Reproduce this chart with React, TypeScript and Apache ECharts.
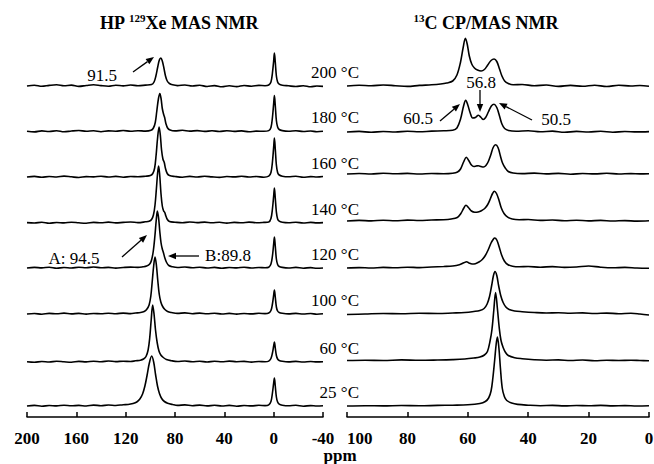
import React, { useEffect, useRef } from 'react';
import * as echarts from 'echarts';

const F = "'Liberation Serif','Times New Roman',Times,serif";

// Temperature labels (top to bottom)
const temps = ['200 °C', '180 °C', '160 °C', '140 °C', '120 °C', '100 °C', '60 °C', '25 °C'];

// Vertical offsets of each stacked trace (y-axis units, 0 = axis line)
const xeOffsets = [331, 285.5, 240, 194, 149, 103, 55, 11];
const cOffsets = [331, 285, 243, 196, 149, 103.5, 56.5, 11];

// HP 129Xe MAS NMR spectra: [ppm, intensity]
const xe200 = [[200,0],[194,0.8],[188,-0.3],[182,0.6],[176,1.2],[170,0.2],[164,0.9],[158,-0.4],[152,0.5],[146,1.3],[140,0.4],[134,-0.2],[128,0.8],[122,0.1],[116,1],[110,0.3],[104,0.9],
  [99,1.5],[97,4],[95.5,10],[94,19],[92.7,26],[91.5,28],[90.3,25],[89,18],[87.7,10],[86.3,5],[84.5,2.5],[82,1.2],
  [78,0.4],[72,1],[66,0],[60,0.7],[54,-0.5],[48,0.4],[42,-0.8],[36,0.2],[30,-0.6],[24,0.5],[18,-0.2],[12,0.6],[7,0.3],[4,1],[2.2,4],[1,13],[0,25],[-0.6,33],[-1.3,24],[-2.2,10],[-3.2,4],[-4.5,1.8],[-7,0.8],[-12,0.2],[-18,-0.5],[-24,0.3],[-30,-0.8],[-35,0],[-40,-0.4]];
const xe180 = [[200,0.3],[194,-0.4],[188,0.6],[182,0],[176,0.8],[170,-0.3],[164,0.5],[158,1],[152,0.2],[146,0.7],[140,-0.2],[134,0.6],[128,0.3],[122,1],[116,0.2],[110,0.8],[104,0.4],
  [99.5,1.2],[97.5,3.5],[96,9],[94.8,20],[93.4,33],[92.3,38],[91.3,33],[90.3,23],[89.3,17.5],[88.4,14],[87.4,8],[86,3.5],[84,1.5],
  [80,0.6],[74,1.2],[68,0.4],[62,0.9],[56,0.1],[50,0.7],[44,0],[38,0.8],[32,0.1],[26,0.6],[20,-0.3],[14,0.4],[8,0.2],[4,0.9],[2.2,4],[1,14],[0,28],[-0.6,36],[-1.3,26],[-2.2,11],[-3.2,4.5],[-4.5,2],[-7,0.9],[-12,0.3],[-18,0.8],[-24,0],[-30,0.5],[-35,-0.2],[-40,0.2]];
const xe160 = [[200,0],[194,0.6],[188,-0.3],[182,0.5],[176,0],[170,0.9],[164,0.2],[158,-0.5],[152,0.4],[146,0.1],[140,0.8],[134,0],[128,0.6],[122,-0.2],[116,0.5],[110,0.2],[104,0.8],
  [100,1.5],[98,3.5],[96.5,9],[95.3,22],[94.2,38],[92.9,50],[91.9,42],[90.9,27],[89.8,18],[88.7,14.5],[87.7,8.5],[86.3,3.5],[84.5,1.5],
  [80,0.5],[74,-0.2],[68,0.6],[62,0],[56,0.8],[50,0.1],[44,-0.4],[38,0.5],[32,0.1],[26,0.7],[20,0],[14,0.5],[8,-0.2],[4,0.8],[2.2,4.5],[1,15],[0,30],[-0.6,39],[-1.3,28],[-2.2,12],[-3.2,4.5],[-4.5,2],[-7,0.8],[-12,0.2],[-18,0.7],[-24,-0.3],[-30,0.4],[-35,0],[-40,0.5]];
const xe140 = [[200,0.4],[194,0],[188,0.7],[182,-0.3],[176,0.5],[170,0.1],[164,0.8],[158,0.2],[152,-0.2],[146,0.6],[140,0.2],[134,0.9],[128,0.1],[122,0.6],[116,1],[110,0.4],[104,1.2],
  [101,1.8],[99,3.5],[97.5,8],[96.2,18],[95.1,34],[94.1,50],[93.3,57],[92.4,48],[91.4,30],[90.3,17],[89.2,12],[88.3,10.5],[87.4,7],[86.2,3.5],[84.5,1.5],
  [80,0.8],[74,0.2],[68,1],[62,0.4],[56,0.9],[50,0.2],[44,0.7],[38,-0.1],[32,0.6],[26,0.2],[20,0.9],[14,0.3],[8,0.6],[4,1],[2.2,4.5],[1,14],[0,27],[-0.6,35],[-1.3,25],[-2.2,11],[-3.2,4],[-4.5,1.8],[-7,0.8],[-12,0.3],[-18,0.8],[-24,0],[-30,0.6],[-35,0.1],[-40,0.4]];
const xe120 = [[200,0],[194,0.6],[188,0.1],[182,0.8],[176,-0.2],[170,0.5],[164,0],[158,0.7],[152,0.3],[146,1],[140,0.2],[134,0.6],[128,-0.1],[122,0.5],[116,0.9],[110,0.6],[106,1.2],
  [103,2],[100.5,4],[99,8],[97.6,17],[96.3,32],[95.2,48],[94.3,57],[93.3,50],[92.3,36],[91.3,25],[90.3,19],[89.3,15],[88.2,10],[86.8,5.5],[85,2.5],[82,1.2],
  [78,0.5],[72,1],[66,0.2],[60,0.8],[54,0],[48,0.6],[42,-0.3],[36,0.5],[30,0.1],[24,0.8],[18,0],[12,0.5],[7,0.2],[4,0.8],[2.2,4],[1,12],[0,24],[-0.6,31],[-1.3,22],[-2.2,9],[-3.2,3.5],[-4.5,1.5],[-7,0.6],[-12,0],[-18,0.6],[-24,-0.2],[-30,0.4],[-35,-0.3],[-40,0]];
const xe100 = [[200,0],[194,0.5],[188,-0.2],[182,0.6],[176,0.2],[170,0.9],[164,0.1],[158,0.6],[152,-0.1],[146,0.5],[140,0.2],[134,0.8],[128,0.3],[122,0.9],[116,0.4],[112,1],[108,1.5],
  [105,2.5],[103,4.5],[101,9],[99.6,18],[98.5,32],[97.3,48],[96.2,57],[95.1,49],[94,34],[92.8,20],[91.5,12],[90,7.5],[88.2,4.5],[86,2.5],[83,1.5],
  [78,0.6],[72,1.1],[66,0.3],[60,0.9],[54,0.2],[48,0.7],[42,0],[36,0.6],[30,-0.1],[24,0.5],[18,0.1],[12,0.7],[7,0.4],[4,1],[2.2,3.5],[1,10],[0,19],[-0.6,24],[-1.3,17],[-2.2,7],[-3.2,3],[-4.5,1.5],[-7,0.7],[-12,0.1],[-18,0.6],[-24,0],[-30,0.5],[-35,-0.2],[-40,0.2]];
const xe60 = [[200,0.2],[194,-0.3],[188,0.5],[182,0],[176,0.7],[170,0.2],[164,-0.2],[158,0.6],[152,0.1],[146,0.8],[140,0.3],[134,1],[128,0.4],[122,0.8],[116,0.5],[112,1.2],[108,1.8],
  [105.5,3],[103.5,5.5],[101.8,12],[100.5,24],[99.3,42],[98.1,57],[97,48],[95.8,32],[94.4,19],[93,11],[91.5,7],[89.5,4.5],[87,2.5],[83,1.3],
  [78,0.5],[72,1],[66,0.2],[60,0.8],[54,0],[48,0.7],[42,0.2],[36,0.9],[30,0.3],[24,0.6],[18,-0.1],[12,0.5],[7,0.3],[4,0.9],[2.2,3.5],[1,9],[0,16],[-0.6,20],[-1.3,14],[-2.2,6.5],[-3.2,3],[-4.5,1.5],[-7,0.7],[-12,0.1],[-18,0.6],[-24,0],[-30,0.5],[-35,0.1],[-40,0.3]];
const xe25 = [[200,0],[194,0.6],[188,-0.2],[182,0.5],[176,0.1],[170,0.8],[164,0.2],[158,0.6],[152,0],[146,0.9],[140,0.3],[134,1],[128,0.5],[122,1.3],[118,1.5],[114,2.5],[111,4],
  [108.5,7],[106.3,12],[104.4,20],[102.6,31],[100.8,43],[98.9,50],[97.3,44],[95.7,31],[94.2,20],[92.6,12.5],[90.8,7.5],[88.6,4.5],[86,2.8],[82,1.5],
  [78,0.6],[72,1.1],[66,0.3],[60,0.9],[54,0.1],[48,0.7],[42,0],[36,0.6],[30,-0.2],[24,0.5],[18,0.1],[12,0.7],[7,0.4],[4,1.2],[2.2,4.5],[1,13],[0,23],[-0.6,28],[-1.3,20],[-2.2,9],[-3.2,4],[-4.5,1.8],[-7,0.8],[-12,0.2],[-18,0.7],[-24,-0.2],[-30,0.4],[-35,0],[-40,0.3]];

// 13C CP/MAS NMR spectra: [ppm, intensity]
const c200 = [[100,0],[96,0.8],[92,0.2],[88,1],[84,0.3],[80,-0.4],[76,0.6],[72,1.2],[69,2],
  [67,3],[65,5],[63.6,11],[62.4,24],[61.5,39],[60.8,47.7],[60.2,42],[59.5,30],[58.7,22],[57.8,18],[56.8,16],[55.6,15],[54.5,16.5],[53.4,21],[52.3,25.5],[51.3,27],[50.4,24.5],[49.5,17],[48.7,10],[47.8,5],[46.6,2.5],[45,1.2],
  [42,1.5],[38,0.3],[34,1],[30,-0.4],[26,0.6],[22,-0.3],[18,0.8],[14,-0.5],[10,0.7],[6,0],[3,0.5],[0,-0.2]];
const c180 = [[100,0],[96,0.6],[92,-0.3],[88,0.5],[84,0],[80,0.8],[76,0.2],[72,0.9],[68,1.2],[65,1.8],
  [63.6,4],[62.4,13],[61.4,26],[60.7,31.7],[60,27],[59.2,19],[58.4,14],[57.5,14.5],[56.5,16.7],[55.6,14.5],[54.9,12.5],[54.1,14.5],[53.2,20],[52.2,26],[51.3,27.7],[50.4,24.5],[49.5,16],[48.7,8],[47.8,3.5],[46.5,1.5],[44,0.8],
  [40,1.2],[36,0.2],[32,0.9],[28,-0.3],[24,0.6],[20,0],[16,0.7],[12,-0.2],[8,0.5],[4,0.1],[0,0.4]];
const c160 = [[100,0],[96,0.5],[92,0],[88,0.7],[84,0.2],[80,0.6],[76,0],[72,0.5],[68,0.3],[65,0.8],
  [63.4,2],[62.4,5],[61.4,12],[60.5,16.7],[59.7,13.5],[58.8,9],[58,7.5],[57.2,8],[56.5,8.3],[55.6,7.5],[54.8,7],[54,8.5],[53.2,12.5],[52.4,19],[51.6,26.5],[50.8,29.3],[50,26.5],[49.2,18],[48.5,11],[47.6,6],[46.6,2.5],[45,1],
  [42,0.4],[38,0.9],[34,0.1],[30,0.6],[26,-0.2],[22,0.5],[18,0.1],[14,0.7],[10,0],[6,0.4],[3,0.1],[0,0.3]];
const c140 = [[100,0],[96,0.6],[92,0.1],[88,0.8],[84,0.2],[80,0.9],[76,0.5],[72,1],[68,1.3],[65.5,2],
  [63.5,3.5],[62.3,7.5],[61.3,13],[60.6,15.7],[59.8,13.5],[58.8,10],[57.7,8.7],[56.6,9],[55.5,10.3],[54.4,12.5],[53.4,16.5],[52.5,22.5],[51.8,27.5],[51.2,29.7],[50.5,27.5],[49.7,21],[48.9,13],[48,7.5],[46.8,3.8],[45.3,2],[43,1.3],
  [40,1.5],[36,0.6],[32,1],[28,0.3],[24,0.8],[20,0.1],[16,0.6],[12,0],[8,0.4],[4,-0.1],[0,0.2]];
const c120 = [[100,0],[96,0.4],[92,0],[88,0.6],[84,0.2],[80,0.8],[76,0.4],[72,1],[68,1.5],[65,2],
  [62.8,3.2],[61.3,5.2],[60.4,6.3],[59.6,5],[58.6,4],[57.5,4.3],[56.3,6],[55.2,8.5],[54.2,12.5],[53.2,18.5],[52.3,25],[51.5,29],[51.1,30],[50.4,28],[49.6,21],[48.8,13],[47.9,7],[46.8,3.5],[45.2,1.8],[43,1.2],
  [40,1.5],[36,0.8],[32,1.4],[28,0.6],[24,1],[20,2],[16,0.8],[12,0.2],[8,0.6],[4,0],[0,-0.3]];
const c100 = [[100,-1],[94,-0.5],[88,0],[82,-0.3],[76,0.2],[70,0],[65,0.5],[61,1],[58,2],[56,3],
  [54.6,5],[53.6,9.5],[52.8,17],[52.1,28],[51.5,38],[51,42],[50.4,38],[49.8,28],[49.1,18],[48.3,11],[47.4,6.5],[46.3,4],[44.5,2.5],[42,1.8],
  [38,1],[34,0.5],[30,0.8],[26,0.3],[22,0.6],[18,0],[14,0.4],[10,-0.2],[6,0.2],[3,-0.5],[0,-1.5]];
const c60 = [[100,0],[94,0.3],[88,0],[82,0.6],[76,0.2],[70,0.5],[65,0.9],[61,1.5],[58,2.5],[56,3.5],
  [54.5,5.5],[53.5,9],[52.6,20],[52,31],[51.4,50],[50.8,68],[50.2,52],[49.6,33],[49,20],[48.3,13],[47.5,8],[46.6,5],[44.5,2.8],[42,1.8],
  [38,0.8],[34,0.3],[30,0.6],[26,0],[22,0.5],[18,-0.2],[14,0.3],[10,0],[6,0.2],[3,0],[0,-0.2]];
const c25 = [[100,0],[94,0.3],[88,0.1],[82,0.5],[76,0.2],[70,0.6],[65,0.8],[60,1.2],[56,2.5],
  [54.2,4.5],[53.1,8],[52.3,15],[51.7,28],[51.1,46],[50.6,62],[50.2,69],[49.7,58],[49.2,38],[48.6,18],[47.9,9.5],[47.1,5.5],[45.5,3],[43.5,1.6],
  [40,0.8],[36,0.3],[32,0.6],[28,0.1],[24,0.5],[20,0.2],[16,0.6],[12,0.1],[8,0.4],[4,0],[0,0.2]];

const xeTraces = [xe200, xe180, xe160, xe140, xe120, xe100, xe60, xe25];
const cTraces = [c200, c180, c160, c140, c120, c100, c60, c25];

// Axis extents
const xeRange = [-40, 200];
const cRange = [0, 100];

// Layout constants
const W = 654, H = 464;
const GRID_TOP = 30, GRID_BOTTOM = 47;
const AXIS_Y = H - GRID_BOTTOM;
const Y_MAX = H - GRID_TOP - GRID_BOTTOM;

function arrow(x1: number, y1: number, x2: number, y2: number) {
  const head = 8, w = 3.2;
  const dx = x2 - x1, dy = y2 - y1;
  const L = Math.hypot(dx, dy);
  const ux = dx / L, uy = dy / L;
  const bx = x2 - ux * head, by = y2 - uy * head;
  return [
    { type: 'line', silent: true, shape: { x1, y1, x2: bx, y2: by }, style: { stroke: '#000', lineWidth: 1.3 } },
    { type: 'polygon', silent: true, shape: { points: [[x2, y2], [bx - uy * w, by + ux * w], [bx + uy * w, by - ux * w]] }, style: { fill: '#000' } },
  ];
}

function label(text: string, x: number, y: number, align = 'center') {
  return { type: 'text', silent: true, x, y, style: { text, fill: '#000', fontSize: 17, fontFamily: F, align, verticalAlign: 'middle' } };
}

export default function App() {
  const ref = useRef<HTMLDivElement>(null);
  useEffect(() => {
    if (!ref.current) return;
    const chart = echarts.init(ref.current, undefined, { renderer: 'svg' });
    const axisCommon = {
      type: 'value',
      inverse: true,
      axisLine: { show: true, onZero: false, lineStyle: { color: '#000', width: 1.5 } },
      axisTick: { show: true, inside: true, length: 5, lineStyle: { color: '#000', width: 1.5 } },
      splitLine: { show: false },
    };
    const labelCommon = { color: '#000', fontSize: 17, lineHeight: 16, fontWeight: 'bold', fontFamily: F, margin: 13, showMinLabel: true, showMaxLabel: true };
    const series: any[] = [];
    xeTraces.forEach((t, i) => {
      series.push({
        type: 'line', xAxisIndex: 0, yAxisIndex: 0, silent: true, symbol: 'none', showSymbol: false,
        smooth: 0.35, lineStyle: { color: '#000', width: 1.6 },
        data: t.map(([p, h]) => [p, h + xeOffsets[i]]),
      });
    });
    cTraces.forEach((t, i) => {
      series.push({
        type: 'line', xAxisIndex: 1, yAxisIndex: 1, silent: true, symbol: 'none', showSymbol: false,
        smooth: 0.35, lineStyle: { color: '#000', width: 1.6 },
        data: t.map(([p, h]) => [p, h + cOffsets[i]]),
      });
    });

    const graphics: any[] = [];
    temps.forEach((t, i) => {
      graphics.push(label(t, 359, AXIS_Y - xeOffsets[i] - 14, 'right'));
    });
    graphics.push(label('91.5', 102, 75));
    graphics.push(...arrow(133, 72, 154, 57));
    graphics.push(label('A: 94.5', 74, 258));
    graphics.push(...arrow(122, 257, 147, 235));
    graphics.push(label('B:89.8', 228, 255));
    graphics.push(...arrow(199, 256, 168, 256));
    graphics.push(label('56.8', 481, 82));
    graphics.push(...arrow(480, 90, 480, 112));
    graphics.push(label('60.5', 418, 118));
    graphics.push(...arrow(440, 121, 460, 104));
    graphics.push(label('50.5', 556, 119));
    graphics.push(...arrow(532, 120, 499, 103));
    graphics.push({
      type: 'text', silent: true, x: 340, y: 455,
      style: { text: 'ppm', fill: '#000', fontSize: 17, lineHeight: 15, fontWeight: 'bold', fontFamily: F, align: 'center', verticalAlign: 'middle' },
    });
    const richT = {
      b: { fontSize: 18, fontWeight: 'bold', fontFamily: F, fill: '#000', lineHeight: 22 },
      s: { fontSize: 11, fontWeight: 'bold', fontFamily: F, fill: '#000', lineHeight: 12, verticalAlign: 'top' },
    };
    graphics.push({
      type: 'text', silent: true, x: 179, y: 23,
      style: { text: '{b|HP }{s|129}{b|Xe MAS NMR}', rich: richT, align: 'center', verticalAlign: 'middle' },
    });
    graphics.push({
      type: 'text', silent: true, x: 486, y: 23,
      style: { text: '{s|13}{b|C CP/MAS NMR}', rich: richT, align: 'center', verticalAlign: 'middle' },
    });

    chart.setOption({
      animation: false,
      backgroundColor: '#fff',
      grid: [
        { left: 27, right: W - 323, top: GRID_TOP, bottom: GRID_BOTTOM, containLabel: false, outerBoundsMode: 'none' },
        { left: 347, right: W - 649, top: GRID_TOP, bottom: GRID_BOTTOM, containLabel: false, outerBoundsMode: 'none' },
      ],
      xAxis: [
        { ...axisCommon, gridIndex: 0, min: xeRange[0], max: xeRange[1], interval: 40, axisLabel: { ...labelCommon, alignMinLabel: 'center' } },
        { ...axisCommon, gridIndex: 1, min: cRange[0], max: cRange[1], interval: 20, axisLabel: { ...labelCommon, alignMaxLabel: 'left' } },
      ],
      yAxis: [
        { type: 'value', gridIndex: 0, min: 0, max: Y_MAX, show: false },
        { type: 'value', gridIndex: 1, min: 0, max: Y_MAX, show: false },
      ],
      series,
      graphic: graphics,
    });
    return () => chart.dispose();
  }, []);
  return <div ref={ref} style={{ position: 'absolute', left: 0, top: 0, width: W, height: H, background: '#fff' }} />;
}
